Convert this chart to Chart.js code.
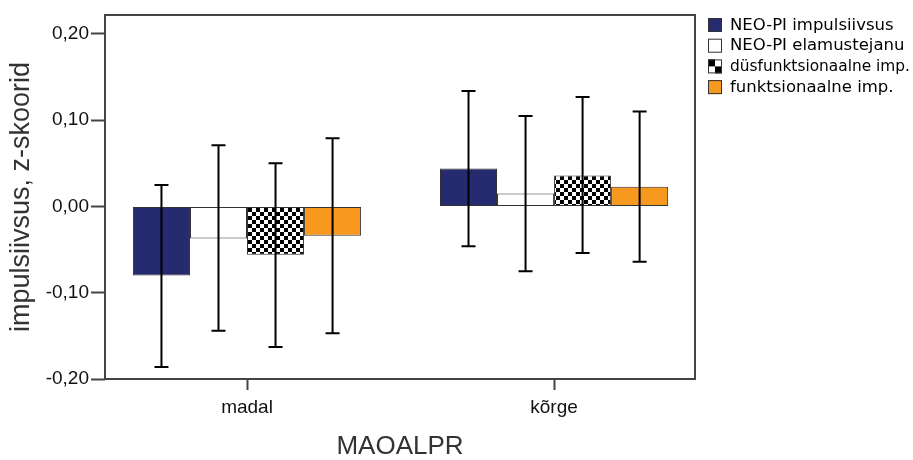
<!DOCTYPE html>
<html>
<head>
<meta charset="utf-8">
<script src="https://cdn.jsdelivr.net/npm/chart.js@4.4.1/dist/chart.umd.min.js"></script>
<style>
  html, body { margin: 0; padding: 0; background: #fff; }
</style>
</head>
<body>
<canvas id="chart" width="913" height="460"></canvas>
<script>
const categories = ["madal", "kõrge"];
const seriesNames = ["NEO-PI impulsiivsus", "NEO-PI elamustejanu", "düsfunktsionaalne imp.", "funktsionaalne imp."];
const yTicks = [-0.2, -0.1, 0, 0.1, 0.2];

// means
const impulsiivsus = [-0.080, 0.044];
const elamustejanu = [-0.037, 0.015];
const dysfunktsionaalne = [-0.056, 0.036];
const funktsionaalne = [-0.034, 0.023];

// error bar ends
const impulsiivsusLow = [-0.186, -0.046];
const impulsiivsusHigh = [0.025, 0.134];
const elamustejanuLow = [-0.144, -0.075];
const elamustejanuHigh = [0.071, 0.105];
const dysfunktsionaalneLow = [-0.163, -0.054];
const dysfunktsionaalneHigh = [0.050, 0.127];
const funktsionaalneLow = [-0.147, -0.064];
const funktsionaalneHigh = [0.079, 0.110];

function checker(size) {
  const c = document.createElement("canvas");
  c.width = size * 2;
  c.height = size * 2;
  const g = c.getContext("2d");
  g.fillStyle = "#fff";
  g.fillRect(0, 0, size * 2, size * 2);
  g.fillStyle = "#000";
  g.fillRect(0, 0, size, size);
  g.fillRect(size, size, size, size);
  return g.createPattern(c, "repeat");
}

const ctx = document.getElementById("chart").getContext("2d");
const checkerFill = checker(4);

function points(values) {
  return values.map((v, i) => ({ x: i, y: v }));
}

const datasets = [
  { label: seriesNames[0], data: points(impulsiivsus), low: impulsiivsusLow, high: impulsiivsusHigh, backgroundColor: "#262a6e" },
  { label: seriesNames[1], data: points(elamustejanu), low: elamustejanuLow, high: elamustejanuHigh, backgroundColor: "#ffffff" },
  { label: seriesNames[2], data: points(dysfunktsionaalne), low: dysfunktsionaalneLow, high: dysfunktsionaalneHigh, backgroundColor: checkerFill, legendFill: "checker" },
  { label: seriesNames[3], data: points(funktsionaalne), low: funktsionaalneLow, high: funktsionaalneHigh, backgroundColor: "#f7991f" }
];
datasets.forEach((ds) => {
  ds.borderColor = "#333";
  ds.borderWidth = 1;
  ds.borderSkipped = false;
  ds.categoryPercentage = 0.743;
  ds.barPercentage = 1;
});

const frameAndErrors = {
  id: "frameAndErrors",
  afterDatasetsDraw(chart) {
    const c = chart.ctx;
    const y = chart.scales.y;
    c.save();
    c.strokeStyle = "#000";
    c.lineWidth = 2;
    chart.data.datasets.forEach((ds, i) => {
      chart.getDatasetMeta(i).data.forEach((bar, j) => {
        const top = y.getPixelForValue(ds.high[j]);
        const bottom = y.getPixelForValue(ds.low[j]);
        c.beginPath();
        c.moveTo(bar.x, top);
        c.lineTo(bar.x, bottom);
        c.moveTo(bar.x - 7, top);
        c.lineTo(bar.x + 7, top);
        c.moveTo(bar.x - 7, bottom);
        c.lineTo(bar.x + 7, bottom);
        c.stroke();
      });
    });
    c.restore();
  },
  afterDraw(chart) {
    const c = chart.ctx;
    const a = chart.chartArea;
    c.save();
    c.strokeStyle = "#444";
    c.lineWidth = 2;
    c.strokeRect(a.left, a.top, a.right - a.left, a.bottom - a.top);

    // legend
    c.font = "16.5px 'DejaVu Sans'";
    c.textBaseline = "middle";
    c.textAlign = "left";
    chart.data.datasets.forEach((ds, i) => {
      const bx = 708;
      const by = 18 + i * 20.7;
      if (ds.legendFill === "checker") {
        c.fillStyle = "#fff";
        c.fillRect(bx, by, 14, 14);
        c.fillStyle = "#000";
        c.fillRect(bx, by, 7, 7);
        c.fillRect(bx + 7, by + 7, 7, 7);
      } else {
        c.fillStyle = ds.backgroundColor;
        c.fillRect(bx, by, 14, 14);
      }
      c.lineWidth = 1;
      c.strokeStyle = "#333";
      c.strokeRect(bx + 0.5, by + 0.5, 13, 13);
      c.fillStyle = "#000";
      c.fillText(ds.label, 730, by + 7.5, 180);
    });
    c.restore();
  }
};

new Chart(ctx, {
  type: "bar",
  data: { datasets: datasets },
  plugins: [frameAndErrors],
  options: {
    responsive: false,
    animation: false,
    layout: { padding: { top: 15, right: 218, bottom: 0, left: 0 } },
    plugins: {
      legend: { display: false },
      tooltip: { enabled: false }
    },
    scales: {
      x: {
        type: "linear",
        min: -0.4625,
        max: 1.459,
        offset: false,
        border: { display: false },
        grid: { display: true, offset: false, drawOnChartArea: false, tickLength: 11, tickColor: "#444", tickWidth: 2 },
        afterBuildTicks: (scale) => {
          scale.ticks = categories.map((c, i) => ({ value: i }));
        },
        afterFit: (scale) => {
          scale.height = 81;
          scale.paddingLeft = 0;
          scale.paddingRight = 0;
        },
        ticks: {
          padding: 6,
          color: "#111",
          font: { family: "'Liberation Sans', Arial", size: 19 },
          callback: (value) => categories[value]
        },
        title: {
          display: true,
          text: "MAOALPR",
          color: "#333",
          padding: { top: 0, bottom: 0 },
          font: { family: "'Liberation Sans', Arial", size: 26, lineHeight: 1 }
        }
      },
      y: {
        min: -0.2,
        max: 0.222,
        border: { display: false },
        grid: { display: true, drawOnChartArea: false, tickLength: 14, tickColor: "#444", tickWidth: 2 },
        afterBuildTicks: (scale) => {
          scale.ticks = yTicks.map((v) => ({ value: v }));
        },
        afterFit: (scale) => {
          scale.width = 105;
          scale.paddingTop = 0;
          scale.paddingBottom = 0;
        },
        ticks: {
          padding: 2,
          color: "#111",
          font: { family: "'Liberation Sans', Arial", size: 19 },
          callback: (value) => value.toFixed(2).replace(".", ",")
        },
        title: {
          display: true,
          text: "impulsiivsus, z-skoorid",
          color: "#333",
          padding: { top: 8, bottom: 0 },
          font: { family: "'Liberation Sans', Arial", size: 27, lineHeight: 1 }
        }
      }
    }
  }
});
</script>
</body>
</html>
